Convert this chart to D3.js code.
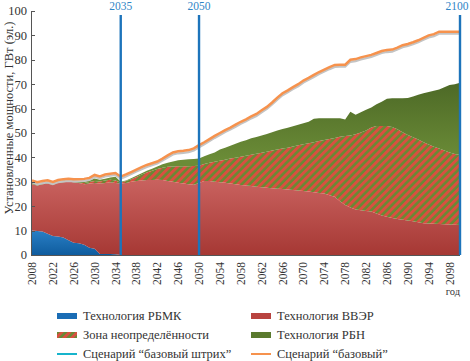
<!DOCTYPE html>
<html>
<head>
<meta charset="utf-8">
<script src="https://cdn.jsdelivr.net/npm/d3@7/dist/d3.min.js"></script>
<style>
  body { margin: 0; background: #fff; }
</style>
</head>
<body>
<script>
// years 2018 ... 2100
var years = d3.range(2018, 2101);

// x axis ticks (first label is printed as "2008" on the original)
var tickYears = [2018, 2022, 2026, 2030, 2034, 2038, 2042, 2046, 2050, 2054, 2058, 2062, 2066, 2070, 2074, 2078, 2082, 2086, 2090, 2094, 2098];
var tickLabels = ["2008", "2022", "2026", "2030", "2034", "2038", "2042", "2046", "2050", "2054", "2058", "2062", "2066", "2070", "2074", "2078", "2082", "2086", "2090", "2094", "2098"];
var yTicks = [0, 10, 20, 30, 40, 50, 60, 70, 80, 90, 100];
var markYears = [2035, 2050, 2100];

// Технология РБМК
var rbmk = [10, 9.8, 9.6, 8.7, 7.8, 7.6, 7.2, 6.0, 5.0, 4.8, 4.2, 3.0, 2.6, 0.4, 0.4, 0.4, 0.3,
  0, 0, 0, 0, 0, 0, 0, 0, 0, 0, 0, 0, 0, 0, 0,
  0, 0, 0, 0, 0, 0, 0, 0, 0, 0, 0, 0, 0, 0, 0,
  0, 0, 0, 0, 0, 0, 0, 0, 0, 0, 0, 0, 0, 0, 0,
  0, 0, 0, 0, 0, 0, 0, 0, 0, 0, 0, 0, 0, 0, 0, 0, 0, 0, 0, 0, 0];

// Технология ВВЭР
var vver = [19, 18.7, 19.4, 20.6, 21, 21.9, 22.6, 24, 24.8, 24.7, 24.8, 26.3, 26.9, 28.9, 29.1, 29.4, 29.2,
  29.3, 29.5, 30, 30.3, 30.5, 30.7, 30.7, 30.8, 30.7, 30.3, 30, 29.6, 29.3, 29, 28.8,
  29.5, 30.3, 30.3, 30, 29.8, 29.6, 29.3, 29, 28.7, 28.5, 28.3, 28, 27.8, 27.6, 27.4,
  27.2, 27, 26.8, 26.6, 26.4, 26.2, 26, 25.7, 25.4, 25.2, 24.5, 23.9, 22, 20.5, 19.5,
  18.6, 18.3, 18, 17.8, 17, 16.2, 15.7, 15.2, 14.8, 14.4, 14.1, 13.8, 13.4, 13, 12.9, 12.8, 12.7, 12.6, 12.5, 12.4, 12.3];

// Зона неопределённости
var zone = [0, 0, 0, 0, 0, 0, 0, 0, 0, 0, 0.5, 0.6, 0.8, 0.8, 1.0, 1.0, 1.0,
  0.3, 0.8, 1.0, 1.7, 2.5, 3.1, 3.8, 4.4, 5.1, 5.9, 6.3, 6.8, 7.1, 7.4, 7.7,
  7.1, 7.0, 7.5, 8.2, 8.8, 9.4, 10.2, 10.9, 11.6, 12.2, 12.8, 13.5, 14.1, 14.7, 15.4,
  16.0, 16.6, 17.2, 17.9, 18.6, 19.2, 19.8, 20.5, 21.3, 21.9, 23.0, 24.1, 26.5, 28.3, 29.5,
  30.9, 31.9, 33.0, 34.5, 35.9, 36.7, 37.2, 37.3, 36.7, 35.9, 35.1, 34.5, 33.9, 33.2, 32.4, 31.6, 30.9, 30.2, 29.5, 29.0, 28.7];

// Технология РБН
var rbn = [0.8, 0.7, 0.6, 0.7, 0.7, 0.7, 0.7, 0.8, 0.7, 0.8, 0.5, 0.6, 1.1, 0.7, 0.7, 1.0, 1.6,
  0.4, 0.2, 0.5, 0.5, 0.5, 0.7, 0.8, 1.1, 1.4, 1.6, 2.0, 2.4, 2.6, 2.8, 2.8,
  3.0, 3.2, 3.5, 3.8, 4.6, 5.0, 5.3, 5.7, 6.1, 6.3, 6.7, 6.9, 7.1, 7.3, 7.5,
  7.8, 8.0, 8.2, 8.3, 8.4, 8.6, 8.8, 9.6, 9.3, 8.9, 8.5, 8.0, 7.5, 6.7, 9.7,
  8.0, 8.3, 8.5, 8.2, 8.9, 9.9, 11.1, 11.7, 12.7, 13.9, 15.1, 16.7, 18.4, 20.1, 21.5, 22.9, 24.2, 26.0, 27.7, 28.6, 29.6];

// Сценарий "базовый"
var bazovy = [30.6, 29.8, 30.3, 30.6, 29.9, 30.7, 31, 31.2, 31, 31, 31.2, 31.6, 32.8, 32.2, 33, 33.3, 33.6,
  32.1, 33, 34, 35, 36, 36.9, 37.6, 38.3, 39.5, 40.8, 42, 42.5, 42.7, 43, 43.7,
  45, 46.2, 47.5, 48.8, 50, 51.2, 52.2, 53.4, 54.6, 55.6, 56.8, 57.8, 59.3, 60.7, 62.5,
  64.5, 66.3, 67.5, 68.8, 70, 71.5, 72.6, 73.8, 75, 76, 77, 77.9, 78, 78, 80,
  80.3, 81, 81.5, 82, 82.8, 83.6, 84, 84.2, 85, 86, 86.5, 87.2, 88, 89, 90, 90.5, 91.5, 91.5, 91.5, 91.5, 91.5];

var legendItems = [
  {name: "Технология РБМК", kind: "rbmk"},
  {name: "Технология ВВЭР", kind: "vver"},
  {name: "Зона неопределённости", kind: "zone"},
  {name: "Технология РБН", kind: "rbn"},
  {name: "Сценарий “базовый штрих”", kind: "cyan"},
  {name: "Сценарий “базовый”", kind: "orange"}
];

var W = 470, H = 361;
var FONT = "Liberation Serif";
var svg = d3.select("body").append("svg").attr("width", W).attr("height", H);

var x = d3.scaleLinear().domain([2018, 2100]).range([32, 460]);
var y = d3.scaleLinear().domain([0, 100]).range([255, 11]);

// gradients and hatch
var defs = svg.append("defs");
function vgrad(id, c1, c2, y1, y2) {
  var g = defs.append("linearGradient").attr("id", id)
    .attr("gradientUnits", "userSpaceOnUse")
    .attr("x1", 0).attr("x2", 0).attr("y1", y1).attr("y2", y2);
  g.append("stop").attr("offset", 0).attr("stop-color", c1);
  g.append("stop").attr("offset", 1).attr("stop-color", c2);
}
vgrad("gBlue", "#2a80c6", "#0f5c9e", 230, 255);
vgrad("gRed", "#c9625f", "#a63834", 180, 255);
vgrad("gGreen", "#4c6826", "#6b8c37", 80, 160);

var pat = defs.append("pattern").attr("id", "hatch")
  .attr("patternUnits", "userSpaceOnUse")
  .attr("width", 5.5).attr("height", 5.5)
  .attr("patternTransform", "rotate(45)");
pat.append("rect").attr("width", 5.5).attr("height", 5.5).attr("fill", "#688a34");
pat.append("rect").attr("width", 2.9).attr("height", 5.5).attr("fill", "#da4f40");

var fills = {rbmk: "url(#gBlue)", vver: "url(#gRed)", zone: "url(#hatch)", rbn: "url(#gGreen)"};

var rows = years.map(function(yr, i) {
  return {year: yr, rbmk: rbmk[i], vver: vver[i], zone: zone[i], rbn: rbn[i], bazovy: bazovy[i]};
});

var stack = d3.stack().keys(["rbmk", "vver", "zone", "rbn"]);
var layers = stack(rows);

var area = d3.area()
  .x(function(d) { return x(d.data.year); })
  .y0(function(d) { return y(d[0]); })
  .y1(function(d) { return y(d[1]); });

svg.selectAll("path.layer")
  .data(layers)
  .enter()
  .append("path")
  .attr("class", "layer")
  .attr("d", area)
  .attr("fill", function(d) { return fills[d.key]; });

// lines: top of the stack ("базовый штрих") and "базовый"
var topLine = d3.line()
  .x(function(d) { return x(d.data.year); })
  .y(function(d) { return y(d[1]); });
var bazLine = d3.line()
  .x(function(d) { return x(d.year); })
  .y(function(d) { return y(d.bazovy); });

var top = layers[layers.length - 1];

svg.append("path").attr("d", bazLine(rows)).attr("fill", "none")
  .attr("stroke", "#c4c4c4").attr("stroke-width", 2.2).attr("transform", "translate(0,2)");
svg.append("path").attr("d", bazLine(rows)).attr("fill", "none")
  .attr("stroke", "#f6924d").attr("stroke-width", 2.5);

svg.append("path").attr("d", topLine(top)).attr("fill", "none")
  .attr("stroke", "#3c4a3a").attr("stroke-width", 2).attr("stroke-opacity", 0.6)
  .attr("transform", "translate(0,2)");
svg.append("path").attr("d", topLine(top)).attr("fill", "none")
  .attr("stroke", "#17b4cc").attr("stroke-width", 2.8);

// axes
svg.append("line").attr("x1", 31.5).attr("x2", 31.5).attr("y1", y(100)).attr("y2", 255.5)
  .attr("stroke", "#555").attr("stroke-width", 1);
svg.append("line").attr("x1", 31).attr("x2", 460).attr("y1", 255.5).attr("y2", 255.5)
  .attr("stroke", "#555").attr("stroke-width", 1);

svg.selectAll("line.ytick")
  .data(yTicks)
  .enter()
  .append("line")
  .attr("x1", 31.5).attr("x2", 35)
  .attr("y1", function(d) { return Math.round(y(d)) + 0.5; })
  .attr("y2", function(d) { return Math.round(y(d)) + 0.5; })
  .attr("stroke", "#555");

svg.selectAll("text.ylab")
  .data(yTicks)
  .enter()
  .append("text")
  .attr("x", 27)
  .attr("y", function(d) { return y(d); })
  .attr("dy", "0.35em")
  .attr("text-anchor", "end")
  .attr("font-family", FONT)
  .attr("font-size", "12.5px")
  .attr("fill", "#333")
  .text(function(d) { return d; });

svg.selectAll("text.xlab")
  .data(tickYears)
  .enter()
  .append("text")
  .attr("transform", function(d) { return "translate(" + x(d) + ",262) rotate(-90)"; })
  .attr("dy", "0.35em")
  .attr("text-anchor", "end")
  .attr("font-family", FONT)
  .attr("font-size", "11.5px")
  .attr("fill", "#333")
  .text(function(d, i) { return tickLabels[i]; });

svg.append("text")
  .attr("transform", "translate(12.5,118) rotate(-90)")
  .attr("text-anchor", "middle")
  .attr("font-family", FONT)
  .attr("font-size", "12.5px")
  .attr("fill", "#333")
  .text("Установленные мощности, ГВт (эл.)");

svg.append("text")
  .attr("x", 453).attr("y", 295)
  .attr("text-anchor", "middle")
  .attr("font-family", FONT)
  .attr("font-size", "10.5px")
  .attr("fill", "#333")
  .text("год");

// marked years
svg.selectAll("line.mark")
  .data(markYears)
  .enter()
  .append("line")
  .attr("x1", function(d) { return x(d); })
  .attr("x2", function(d) { return x(d); })
  .attr("y1", 15).attr("y2", 255)
  .attr("stroke", "#1d74bb").attr("stroke-width", 2.4);

svg.selectAll("text.mark")
  .data(markYears)
  .enter()
  .append("text")
  .attr("x", function(d) { return Math.min(x(d), W - 13); })
  .attr("y", 10)
  .attr("text-anchor", "middle")
  .attr("font-family", FONT)
  .attr("font-size", "11.5px")
  .attr("fill", "#2f85c6")
  .text(function(d) { return d; });

// legend
var leg = svg.selectAll("g.leg")
  .data(legendItems)
  .enter()
  .append("g")
  .attr("transform", function(d, i) {
    return "translate(" + (i % 2 == 0 ? 57 : 251) + "," + (316 + Math.floor(i / 2) * 19) + ")";
  });

leg.each(function(d) {
  var g = d3.select(this);
  if (d.kind == "cyan" || d.kind == "orange") {
    g.append("line").attr("x1", 0).attr("x2", 20).attr("y1", 0).attr("y2", 0)
      .attr("stroke", d.kind == "cyan" ? "#17b4cc" : "#f6924d").attr("stroke-width", 2);
  } else {
    var f = d.kind == "zone" ? "url(#hatch)" : {rbmk: "#1a6db5", vver: "#b8433f", rbn: "#5a7a2e"}[d.kind];
    g.append("rect").attr("x", 0).attr("y", -3).attr("width", 20).attr("height", 6).attr("fill", f);
  }
  g.append("text").attr("x", 26).attr("y", 0).attr("dy", "0.35em")
    .attr("font-family", FONT)
    .attr("font-size", "12.5px").attr("fill", "#333").text(d.name);
});
</script>
</body>
</html>
